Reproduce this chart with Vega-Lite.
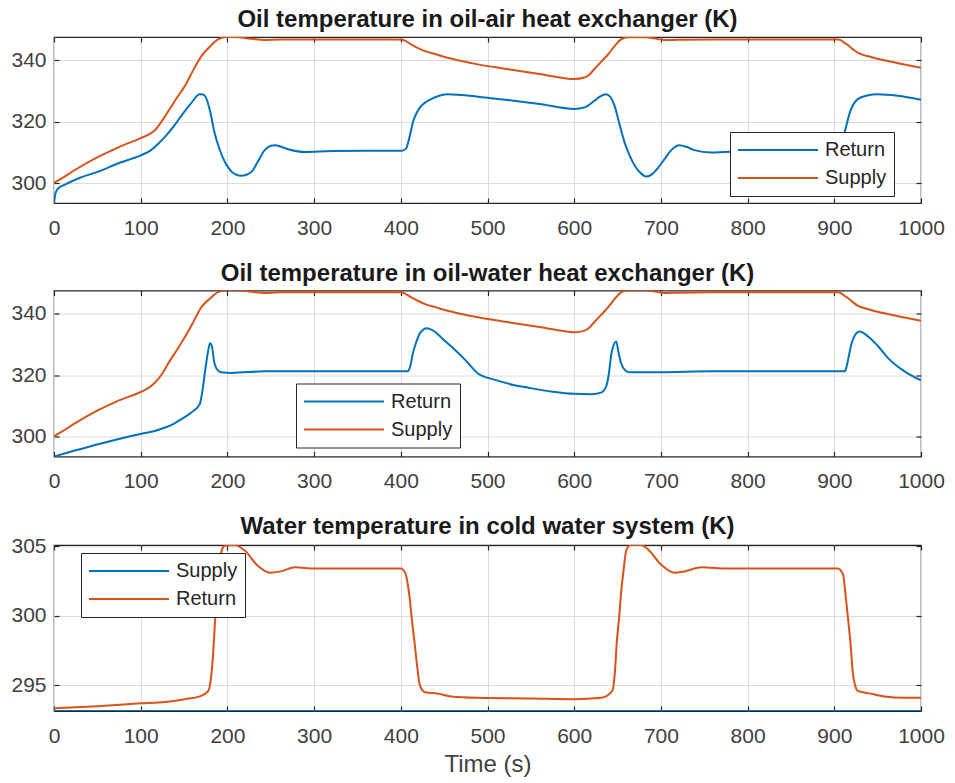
{
  "$schema": "https://vega.github.io/schema/vega-lite/v6.json",
  "padding": {"left": 10, "top": 7, "right": 10, "bottom": 4},
  "background": "white",
  "spacing": 21.5,
  "datasets": {
    "p1": [
      {"t":0,"v":293.8,"s":"Return"},{"t":2,"v":297.0,"s":"Return"},{"t":5,"v":298.4,"s":"Return"},{"t":12,"v":299.5,"s":"Return"},{"t":30,"v":301.8,"s":"Return"},{"t":51,"v":303.8,"s":"Return"},{"t":75,"v":306.6,"s":"Return"},{"t":100,"v":309.1,"s":"Return"},{"t":112,"v":310.8,"s":"Return"},{"t":120,"v":312.8,"s":"Return"},{"t":128,"v":315.1,"s":"Return"},{"t":138,"v":318.5,"s":"Return"},{"t":147,"v":322.0,"s":"Return"},{"t":158,"v":326.0,"s":"Return"},{"t":168,"v":329.0,"s":"Return"},{"t":172,"v":328.9,"s":"Return"},{"t":176,"v":327.4,"s":"Return"},{"t":180,"v":323.5,"s":"Return"},{"t":185,"v":316.7,"s":"Return"},{"t":191,"v":311.0,"s":"Return"},{"t":197,"v":307.0,"s":"Return"},{"t":205,"v":303.8,"s":"Return"},{"t":216,"v":302.5,"s":"Return"},{"t":222,"v":302.8,"s":"Return"},{"t":228,"v":303.8,"s":"Return"},{"t":235,"v":307.0,"s":"Return"},{"t":243,"v":310.8,"s":"Return"},{"t":250,"v":312.2,"s":"Return"},{"t":255,"v":312.4,"s":"Return"},{"t":262,"v":311.9,"s":"Return"},{"t":270,"v":311.1,"s":"Return"},{"t":289,"v":310.2,"s":"Return"},{"t":320,"v":310.5,"s":"Return"},{"t":360,"v":310.6,"s":"Return"},{"t":401,"v":310.6,"s":"Return"},{"t":406,"v":311.3,"s":"Return"},{"t":410,"v":315.0,"s":"Return"},{"t":414,"v":319.9,"s":"Return"},{"t":419,"v":323.3,"s":"Return"},{"t":424,"v":325.3,"s":"Return"},{"t":435,"v":327.4,"s":"Return"},{"t":455,"v":329.0,"s":"Return"},{"t":470,"v":328.7,"s":"Return"},{"t":489,"v":328.2,"s":"Return"},{"t":520,"v":327.2,"s":"Return"},{"t":560,"v":325.8,"s":"Return"},{"t":600,"v":324.2,"s":"Return"},{"t":612,"v":324.7,"s":"Return"},{"t":623.5,"v":326.9,"s":"Return"},{"t":630,"v":328.3,"s":"Return"},{"t":637,"v":329.0,"s":"Return"},{"t":642,"v":328.0,"s":"Return"},{"t":646.5,"v":325.3,"s":"Return"},{"t":652,"v":319.5,"s":"Return"},{"t":658,"v":313.4,"s":"Return"},{"t":664,"v":309.0,"s":"Return"},{"t":669.5,"v":305.9,"s":"Return"},{"t":676,"v":303.5,"s":"Return"},{"t":683,"v":302.2,"s":"Return"},{"t":690,"v":303.0,"s":"Return"},{"t":696,"v":304.8,"s":"Return"},{"t":704,"v":307.8,"s":"Return"},{"t":712,"v":310.8,"s":"Return"},{"t":721,"v":312.4,"s":"Return"},{"t":730,"v":311.8,"s":"Return"},{"t":738.5,"v":310.8,"s":"Return"},{"t":758,"v":310.0,"s":"Return"},{"t":800,"v":310.5,"s":"Return"},{"t":850,"v":310.6,"s":"Return"},{"t":903,"v":310.6,"s":"Return"},{"t":907,"v":312.0,"s":"Return"},{"t":912,"v":316.7,"s":"Return"},{"t":918,"v":323.1,"s":"Return"},{"t":927,"v":327.4,"s":"Return"},{"t":938,"v":328.6,"s":"Return"},{"t":950,"v":329.0,"s":"Return"},{"t":973,"v":328.5,"s":"Return"},{"t":1000,"v":327.2,"s":"Return"},
      {"t":0,"v":300.2,"s":"Supply"},{"t":10,"v":301.8,"s":"Supply"},{"t":25,"v":304.5,"s":"Supply"},{"t":51,"v":308.6,"s":"Supply"},{"t":75,"v":311.8,"s":"Supply"},{"t":100,"v":314.7,"s":"Supply"},{"t":110,"v":316.0,"s":"Supply"},{"t":116,"v":317.2,"s":"Supply"},{"t":125,"v":320.5,"s":"Supply"},{"t":131,"v":323.1,"s":"Supply"},{"t":141,"v":327.5,"s":"Supply"},{"t":151,"v":331.7,"s":"Supply"},{"t":160,"v":336.5,"s":"Supply"},{"t":170,"v":341.4,"s":"Supply"},{"t":180,"v":344.5,"s":"Supply"},{"t":189,"v":346.8,"s":"Supply"},{"t":200,"v":347.6,"s":"Supply"},{"t":212,"v":347.5,"s":"Supply"},{"t":228,"v":347.0,"s":"Supply"},{"t":243,"v":346.6,"s":"Supply"},{"t":260,"v":346.8,"s":"Supply"},{"t":300,"v":346.8,"s":"Supply"},{"t":350,"v":346.8,"s":"Supply"},{"t":397,"v":346.8,"s":"Supply"},{"t":403,"v":346.6,"s":"Supply"},{"t":412,"v":345.2,"s":"Supply"},{"t":420,"v":344.0,"s":"Supply"},{"t":428,"v":343.0,"s":"Supply"},{"t":440,"v":342.0,"s":"Supply"},{"t":451,"v":341.1,"s":"Supply"},{"t":470,"v":339.8,"s":"Supply"},{"t":489,"v":338.7,"s":"Supply"},{"t":520,"v":337.3,"s":"Supply"},{"t":560,"v":335.6,"s":"Supply"},{"t":600,"v":333.9,"s":"Supply"},{"t":612,"v":334.4,"s":"Supply"},{"t":618,"v":335.5,"s":"Supply"},{"t":623,"v":337.1,"s":"Supply"},{"t":631,"v":339.5,"s":"Supply"},{"t":639,"v":341.9,"s":"Supply"},{"t":647,"v":344.8,"s":"Supply"},{"t":654,"v":346.8,"s":"Supply"},{"t":662,"v":347.5,"s":"Supply"},{"t":681,"v":347.5,"s":"Supply"},{"t":695,"v":347.0,"s":"Supply"},{"t":704,"v":346.6,"s":"Supply"},{"t":720,"v":346.7,"s":"Supply"},{"t":758,"v":346.8,"s":"Supply"},{"t":800,"v":346.8,"s":"Supply"},{"t":850,"v":346.8,"s":"Supply"},{"t":904,"v":346.8,"s":"Supply"},{"t":908,"v":346.5,"s":"Supply"},{"t":912,"v":345.6,"s":"Supply"},{"t":916,"v":344.9,"s":"Supply"},{"t":922,"v":343.5,"s":"Supply"},{"t":927,"v":342.5,"s":"Supply"},{"t":938,"v":341.4,"s":"Supply"},{"t":950,"v":340.5,"s":"Supply"},{"t":975,"v":339.0,"s":"Supply"},{"t":1000,"v":337.6,"s":"Supply"}
    ],
    "p2": [
      {"t":0,"v":293.6,"s":"Return"},{"t":25,"v":295.6,"s":"Return"},{"t":51,"v":297.6,"s":"Return"},{"t":75,"v":299.3,"s":"Return"},{"t":100,"v":300.9,"s":"Return"},{"t":115,"v":301.8,"s":"Return"},{"t":128,"v":303.0,"s":"Return"},{"t":138,"v":304.2,"s":"Return"},{"t":147,"v":305.7,"s":"Return"},{"t":158,"v":307.8,"s":"Return"},{"t":168,"v":310.5,"s":"Return"},{"t":171,"v":314.5,"s":"Return"},{"t":174,"v":320.7,"s":"Return"},{"t":177,"v":326.5,"s":"Return"},{"t":180,"v":330.3,"s":"Return"},{"t":182,"v":329.5,"s":"Return"},{"t":185,"v":323.9,"s":"Return"},{"t":189,"v":321.5,"s":"Return"},{"t":193,"v":320.9,"s":"Return"},{"t":205,"v":320.7,"s":"Return"},{"t":243,"v":321.2,"s":"Return"},{"t":300,"v":321.2,"s":"Return"},{"t":350,"v":321.2,"s":"Return"},{"t":408,"v":321.2,"s":"Return"},{"t":411,"v":323.0,"s":"Return"},{"t":414,"v":327.1,"s":"Return"},{"t":418,"v":330.8,"s":"Return"},{"t":422,"v":333.5,"s":"Return"},{"t":430,"v":335.2,"s":"Return"},{"t":439,"v":334.1,"s":"Return"},{"t":448,"v":331.8,"s":"Return"},{"t":458,"v":329.3,"s":"Return"},{"t":474,"v":325.0,"s":"Return"},{"t":489,"v":320.5,"s":"Return"},{"t":508,"v":318.5,"s":"Return"},{"t":530,"v":316.8,"s":"Return"},{"t":547,"v":315.9,"s":"Return"},{"t":575,"v":314.6,"s":"Return"},{"t":600,"v":313.9,"s":"Return"},{"t":620,"v":313.8,"s":"Return"},{"t":631,"v":314.3,"s":"Return"},{"t":637,"v":316.4,"s":"Return"},{"t":640,"v":320.5,"s":"Return"},{"t":643,"v":327.1,"s":"Return"},{"t":648.5,"v":330.9,"s":"Return"},{"t":651,"v":327.5,"s":"Return"},{"t":654,"v":323.9,"s":"Return"},{"t":659,"v":321.5,"s":"Return"},{"t":664,"v":320.9,"s":"Return"},{"t":700,"v":320.9,"s":"Return"},{"t":758,"v":321.2,"s":"Return"},{"t":850,"v":321.2,"s":"Return"},{"t":912,"v":321.2,"s":"Return"},{"t":914,"v":322.5,"s":"Return"},{"t":917,"v":326.5,"s":"Return"},{"t":920,"v":330.3,"s":"Return"},{"t":924,"v":333.0,"s":"Return"},{"t":929,"v":334.1,"s":"Return"},{"t":939,"v":332.5,"s":"Return"},{"t":950,"v":329.5,"s":"Return"},{"t":962,"v":325.5,"s":"Return"},{"t":981,"v":321.2,"s":"Return"},{"t":1000,"v":318.3,"s":"Return"},
      {"t":0,"v":300.2,"s":"Supply"},{"t":10,"v":301.8,"s":"Supply"},{"t":25,"v":304.5,"s":"Supply"},{"t":51,"v":308.6,"s":"Supply"},{"t":75,"v":311.8,"s":"Supply"},{"t":100,"v":314.5,"s":"Supply"},{"t":110,"v":316.0,"s":"Supply"},{"t":116,"v":317.4,"s":"Supply"},{"t":125,"v":320.5,"s":"Supply"},{"t":131,"v":323.4,"s":"Supply"},{"t":141,"v":327.8,"s":"Supply"},{"t":151,"v":332.3,"s":"Supply"},{"t":160,"v":336.8,"s":"Supply"},{"t":170,"v":342.0,"s":"Supply"},{"t":180,"v":344.8,"s":"Supply"},{"t":189,"v":346.9,"s":"Supply"},{"t":200,"v":347.6,"s":"Supply"},{"t":212,"v":347.5,"s":"Supply"},{"t":228,"v":347.0,"s":"Supply"},{"t":243,"v":346.6,"s":"Supply"},{"t":260,"v":346.8,"s":"Supply"},{"t":300,"v":346.8,"s":"Supply"},{"t":350,"v":346.8,"s":"Supply"},{"t":397,"v":346.8,"s":"Supply"},{"t":403,"v":346.6,"s":"Supply"},{"t":412,"v":345.2,"s":"Supply"},{"t":420,"v":344.0,"s":"Supply"},{"t":428,"v":343.0,"s":"Supply"},{"t":440,"v":342.0,"s":"Supply"},{"t":451,"v":341.1,"s":"Supply"},{"t":470,"v":339.8,"s":"Supply"},{"t":489,"v":338.7,"s":"Supply"},{"t":520,"v":337.3,"s":"Supply"},{"t":560,"v":335.6,"s":"Supply"},{"t":600,"v":333.9,"s":"Supply"},{"t":612,"v":334.4,"s":"Supply"},{"t":618,"v":335.5,"s":"Supply"},{"t":623,"v":337.1,"s":"Supply"},{"t":631,"v":339.5,"s":"Supply"},{"t":639,"v":341.9,"s":"Supply"},{"t":647,"v":344.8,"s":"Supply"},{"t":654,"v":346.8,"s":"Supply"},{"t":662,"v":347.5,"s":"Supply"},{"t":681,"v":347.5,"s":"Supply"},{"t":695,"v":347.0,"s":"Supply"},{"t":704,"v":346.6,"s":"Supply"},{"t":720,"v":346.7,"s":"Supply"},{"t":758,"v":346.8,"s":"Supply"},{"t":800,"v":346.8,"s":"Supply"},{"t":850,"v":346.8,"s":"Supply"},{"t":904,"v":346.8,"s":"Supply"},{"t":908,"v":346.5,"s":"Supply"},{"t":912,"v":345.6,"s":"Supply"},{"t":916,"v":344.9,"s":"Supply"},{"t":922,"v":343.5,"s":"Supply"},{"t":927,"v":342.5,"s":"Supply"},{"t":938,"v":341.4,"s":"Supply"},{"t":950,"v":340.5,"s":"Supply"},{"t":975,"v":339.0,"s":"Supply"},{"t":1000,"v":337.6,"s":"Supply"}
    ],
    "p3": [
      {"t":0,"v":293.15,"s":"Supply"},{"t":1000,"v":293.15,"s":"Supply"},
      {"t":0,"v":293.34,"s":"Return"},{"t":50,"v":293.5,"s":"Return"},{"t":100,"v":293.7,"s":"Return"},{"t":128,"v":293.8,"s":"Return"},{"t":151,"v":294.0,"s":"Return"},{"t":168,"v":294.2,"s":"Return"},{"t":178,"v":294.6,"s":"Return"},{"t":181,"v":295.5,"s":"Return"},{"t":183,"v":296.8,"s":"Return"},{"t":185,"v":298.8,"s":"Return"},{"t":187,"v":300.9,"s":"Return"},{"t":189,"v":302.6,"s":"Return"},{"t":191,"v":304.0,"s":"Return"},{"t":194,"v":304.8,"s":"Return"},{"t":197,"v":305.05,"s":"Return"},{"t":208,"v":305.1,"s":"Return"},{"t":220,"v":304.7,"s":"Return"},{"t":235,"v":303.6,"s":"Return"},{"t":249,"v":303.1,"s":"Return"},{"t":262,"v":303.2,"s":"Return"},{"t":278,"v":303.5,"s":"Return"},{"t":301,"v":303.4,"s":"Return"},{"t":350,"v":303.4,"s":"Return"},{"t":400,"v":303.4,"s":"Return"},{"t":405,"v":303.1,"s":"Return"},{"t":410,"v":301.4,"s":"Return"},{"t":413,"v":299.6,"s":"Return"},{"t":416,"v":298.0,"s":"Return"},{"t":419,"v":296.3,"s":"Return"},{"t":422,"v":295.0,"s":"Return"},{"t":428,"v":294.5,"s":"Return"},{"t":443,"v":294.4,"s":"Return"},{"t":458,"v":294.2,"s":"Return"},{"t":489,"v":294.1,"s":"Return"},{"t":550,"v":294.05,"s":"Return"},{"t":600,"v":294.0,"s":"Return"},{"t":631,"v":294.1,"s":"Return"},{"t":644,"v":294.6,"s":"Return"},{"t":647,"v":296.0,"s":"Return"},{"t":649,"v":298.0,"s":"Return"},{"t":652,"v":300.0,"s":"Return"},{"t":654,"v":301.6,"s":"Return"},{"t":657,"v":303.3,"s":"Return"},{"t":660,"v":304.7,"s":"Return"},{"t":665,"v":305.1,"s":"Return"},{"t":677,"v":305.1,"s":"Return"},{"t":685,"v":304.8,"s":"Return"},{"t":700,"v":303.7,"s":"Return"},{"t":716,"v":303.1,"s":"Return"},{"t":727,"v":303.2,"s":"Return"},{"t":747,"v":303.5,"s":"Return"},{"t":777,"v":303.4,"s":"Return"},{"t":850,"v":303.4,"s":"Return"},{"t":904,"v":303.4,"s":"Return"},{"t":910,"v":303.0,"s":"Return"},{"t":913,"v":301.5,"s":"Return"},{"t":916,"v":299.7,"s":"Return"},{"t":919,"v":297.8,"s":"Return"},{"t":921,"v":296.1,"s":"Return"},{"t":924,"v":295.0,"s":"Return"},{"t":927,"v":294.6,"s":"Return"},{"t":942,"v":294.4,"s":"Return"},{"t":958,"v":294.2,"s":"Return"},{"t":980,"v":294.1,"s":"Return"},{"t":1000,"v":294.1,"s":"Return"}
    ]
  },
  "vconcat": [
    {
      "title": {"text": "Oil temperature in oil-air heat exchanger (K)", "offset": 4},
      "width": 867, "height": 166,
      "data": {"name": "p1"},
      "resolve": {"axis": {"x": "independent", "y": "independent"}},
      "layer": [
        {
          "mark": {"type": "line", "strokeWidth": 2, "interpolate": "monotone", "clip": true},
          "encoding": {
            "x": {"field": "t", "type": "quantitative", "scale": {"domain": [0, 1000], "nice": false}, "axis": {"values": [0,100,200,300,400,500,600,700,800,900,1000], "format": "d", "title": null}},
            "y": {"field": "v", "type": "quantitative", "scale": {"domain": [293.6, 347.6], "nice": false, "zero": false}, "axis": {"values": [300, 320, 340], "title": null}},
            "color": {"field": "s", "type": "nominal", "scale": {"domain": ["Return", "Supply"], "range": ["#0072BD", "#D95319"]},
              "legend": {"orient": "none", "legendX": 676, "legendY": 95}}
          }
        },
        {
          "mark": {"type": "line", "strokeOpacity": 0},
          "encoding": {
            "x": {"field": "t", "type": "quantitative", "axis": {"orient": "top", "values": [0,100,200,300,400,500,600,700,800,900,1000], "labels": false, "grid": false, "title": null}},
            "y": {"field": "v", "type": "quantitative", "axis": {"orient": "right", "values": [300, 320, 340], "labels": false, "grid": false, "title": null}}
          }
        }
      ]
    },
    {
      "title": {"text": "Oil temperature in oil-water heat exchanger (K)", "offset": 4},
      "width": 867, "height": 166,
      "data": {"name": "p2"},
      "resolve": {"axis": {"x": "independent", "y": "independent"}},
      "layer": [
        {
          "mark": {"type": "line", "strokeWidth": 2, "interpolate": "monotone", "clip": true},
          "encoding": {
            "x": {"field": "t", "type": "quantitative", "scale": {"domain": [0, 1000], "nice": false}, "axis": {"values": [0,100,200,300,400,500,600,700,800,900,1000], "format": "d", "title": null}},
            "y": {"field": "v", "type": "quantitative", "scale": {"domain": [293.6, 347.4], "nice": false, "zero": false}, "axis": {"values": [300, 320, 340], "title": null}},
            "color": {"field": "s", "type": "nominal", "scale": {"domain": ["Return", "Supply"], "range": ["#0072BD", "#D95319"]},
              "legend": {"orient": "none", "legendX": 242, "legendY": 93}}
          }
        },
        {
          "mark": {"type": "line", "strokeOpacity": 0},
          "encoding": {
            "x": {"field": "t", "type": "quantitative", "axis": {"orient": "top", "values": [0,100,200,300,400,500,600,700,800,900,1000], "labels": false, "grid": false, "title": null}},
            "y": {"field": "v", "type": "quantitative", "axis": {"orient": "right", "values": [300, 320, 340], "labels": false, "grid": false, "title": null}}
          }
        }
      ]
    },
    {
      "title": {"text": "Water temperature in cold water system (K)", "offset": -4},
      "width": 867, "height": 166,
      "data": {"name": "p3"},
      "resolve": {"axis": {"x": "independent", "y": "independent"}},
      "layer": [
        {
          "mark": {"type": "line", "strokeWidth": 2, "interpolate": "monotone", "clip": true},
          "encoding": {
            "x": {"field": "t", "type": "quantitative", "scale": {"domain": [0, 1000], "nice": false}, "axis": {"values": [0,100,200,300,400,500,600,700,800,900,1000], "format": "d", "title": "Time (s)"}},
            "y": {"field": "v", "type": "quantitative", "scale": {"domain": [293.15, 305.1], "nice": false, "zero": false}, "axis": {"values": [295, 300, 305], "title": null}},
            "color": {"field": "s", "type": "nominal", "scale": {"domain": ["Supply", "Return"], "range": ["#0072BD", "#D95319"]},
              "legend": {"orient": "none", "legendX": 27, "legendY": 8}}
          }
        },
        {
          "mark": {"type": "line", "strokeOpacity": 0},
          "encoding": {
            "x": {"field": "t", "type": "quantitative", "axis": {"orient": "top", "values": [0,100,200,300,400,500,600,700,800,900,1000], "labels": false, "grid": false, "title": null}},
            "y": {"field": "v", "type": "quantitative", "axis": {"orient": "right", "values": [295, 300, 305], "labels": false, "grid": false, "title": null}}
          }
        }
      ]
    }
  ],
  "resolve": {"scale": {"color": "independent", "y": "independent", "x": "independent"}, "legend": {"color": "independent"}},
  "config": {
    "font": "Liberation Sans",
    "view": {"stroke": "#262626", "strokeWidth": 1.2},
    "title": {"fontSize": 24, "fontWeight": "bold", "color": "#1a1a1a", "font": "Liberation Sans", "anchor": "middle"},
    "axis": {
      "labelFontSize": 21, "labelColor": "#404040", "labelFont": "Liberation Sans",
      "titleFontSize": 24, "titleColor": "#404040", "titleFontWeight": "normal", "titleFont": "Liberation Sans",
      "domain": false, "tickColor": "#262626", "tickSize": -5, "tickWidth": 1.2,
      "gridColor": "#dcdcdc", "gridWidth": 1,
      "labelFlush": false, "labelOverlap": false
    },
    "axisX": {"labelPadding": 19, "titlePadding": 6},
    "axisY": {"labelPadding": 13},
    "legend": {
      "title": null, "symbolType": "stroke", "symbolSize": 6400, "symbolStrokeWidth": 2,
      "clipHeight": 22,
      "labelFontSize": 20, "labelColor": "#262626", "labelOffset": 6,
      "strokeColor": "#262626", "fillColor": "white", "padding": 7, "rowPadding": 6,
      "cornerRadius": 0
    }
  }
}
